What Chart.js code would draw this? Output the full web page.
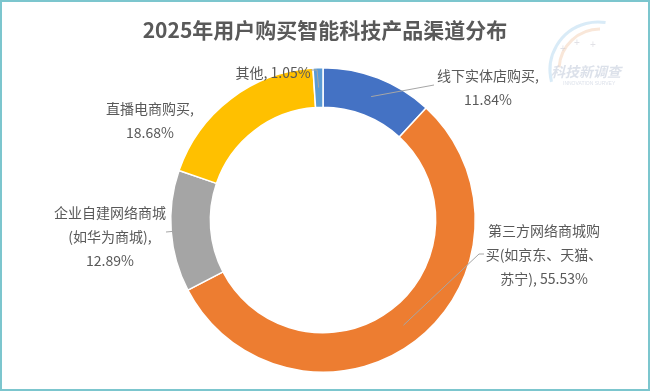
<!DOCTYPE html>
<html>
<head>
<meta charset="utf-8">
<script src="https://cdn.jsdelivr.net/npm/chart.js@4"></script>
<style>
  html, body { margin: 0; padding: 0; background: #fff; }
  canvas { display: block; }
</style>
</head>
<body>
<canvas id="chart" width="650" height="391"></canvas>
<script>
// 2025年用户购买智能科技产品渠道分布
const channels = ['线下实体店购买', '第三方网络商城购买(如京东、天猫、苏宁)', '企业自建网络商城(如华为商城)', '直播电商购买', '其他'];
const shares = [11.84, 55.53, 12.89, 18.68, 1.05];
const colors = ['#4472C4', '#ED7D31', '#A5A5A5', '#FFC000', '#5B9BD5'];

// label text as it wraps in the picture
const labelLines = [
  ['线下实体店购买,', '11.84%'],
  ['第三方网络商城购', '买(如京东、天猫、', '苏宁), 55.53%'],
  ['企业自建网络商城', '(如华为商城),', '12.89%'],
  ['直播电商购买,', '18.68%'],
  ['其他, 1.05%']
];
// label centre x, first line y, leader anchor (null = no leader)
const labelBoxes = [
  { x: 488, y: 76, lead: { x: 434, y: 85 } },
  { x: 544, y: 231, lead: { x: 484, y: 254 }, stub: 479 },
  { x: 110, y: 213, lead: { x: 166, y: 232 } },
  { x: 150, y: 109, lead: null },
  { x: 273, y: 73, lead: { x: 311, y: 70 }, stub: 317 }
];

const FONT = '"Microsoft YaHei", "Noto Sans CJK SC", sans-serif';
const TEXT = '#595959';

const decor = {
  id: 'decor',
  beforeDraw(chart) {
    const ctx = chart.ctx;
    ctx.save();
    ctx.fillStyle = '#fff';
    ctx.fillRect(0, 0, chart.width, chart.height);
    // faint watermark
    ctx.lineWidth = 3;
    ctx.strokeStyle = 'rgba(160,205,235,0.4)';
    ctx.beginPath();
    ctx.arc(598, 70, 48, Math.PI * 0.92, Math.PI * 1.55);
    ctx.stroke();
    ctx.strokeStyle = 'rgba(240,195,160,0.4)';
    ctx.beginPath();
    ctx.arc(600, 70, 41, Math.PI * 1.02, Math.PI * 1.5);
    ctx.stroke();
    ctx.fillStyle = 'rgba(200,200,210,0.55)';
    ctx.font = '10px sans-serif';
    ctx.fillText('+', 560, 52);
    ctx.fillText('+', 574, 46);
    ctx.fillText('+', 590, 48);
    ctx.font = 'italic bold 14px ' + FONT;
    ctx.fillStyle = 'rgba(205,212,225,0.7)';
    ctx.textAlign = 'left';
    ctx.textBaseline = 'middle';
    ctx.fillText('科技新调查', 551, 72);
    ctx.font = '5px sans-serif';
    ctx.fillText('INNOVATION SURVEY', 563, 84);
    ctx.restore();
  },
  afterDraw(chart) {
    const ctx = chart.ctx;
    const arcs = chart.getDatasetMeta(0).data;
    ctx.save();
    // title
    ctx.fillStyle = TEXT;
    ctx.font = 'bold 21px ' + FONT;
    ctx.textAlign = 'center';
    ctx.textBaseline = 'middle';
    ctx.fillText('2025年用户购买智能科技产品渠道分布', 325, 30);

    // leader lines
    ctx.strokeStyle = '#A6A6A6';
    ctx.lineWidth = 1;
    labelBoxes.forEach((b, i) => {
      if (!b.lead) return;
      const p = arcs[i].tooltipPosition();
      ctx.beginPath();
      ctx.moveTo(b.lead.x, b.lead.y);
      if (b.stub) ctx.lineTo(b.stub, b.lead.y);
      ctx.lineTo(p.x, p.y);
      ctx.stroke();
    });

    // labels
    ctx.font = '14px ' + FONT;
    ctx.fillStyle = TEXT;
    labelBoxes.forEach((b, i) => {
      labelLines[i].forEach((t, k) => ctx.fillText(t, b.x, b.y + k * 24));
    });

    // frame
    ctx.strokeStyle = '#7CC6CE';
    ctx.lineWidth = 2;
    ctx.strokeRect(1, 1, chart.width - 2, chart.height - 2);
    ctx.restore();
  }
};

new Chart(document.getElementById('chart'), {
  type: 'doughnut',
  data: {
    labels: channels,
    datasets: [{
      data: shares,
      backgroundColor: colors,
      borderColor: '#ffffff',
      borderWidth: 1.5
    }]
  },
  options: {
    responsive: false,
    animation: false,
    cutout: '74%',
    layout: { padding: { top: 67, bottom: 18, left: 170, right: 174 } },
    plugins: {
      legend: { display: false },
      tooltip: { enabled: false },
      title: { display: false }
    }
  },
  plugins: [decor]
});
</script>
</body>
</html>
